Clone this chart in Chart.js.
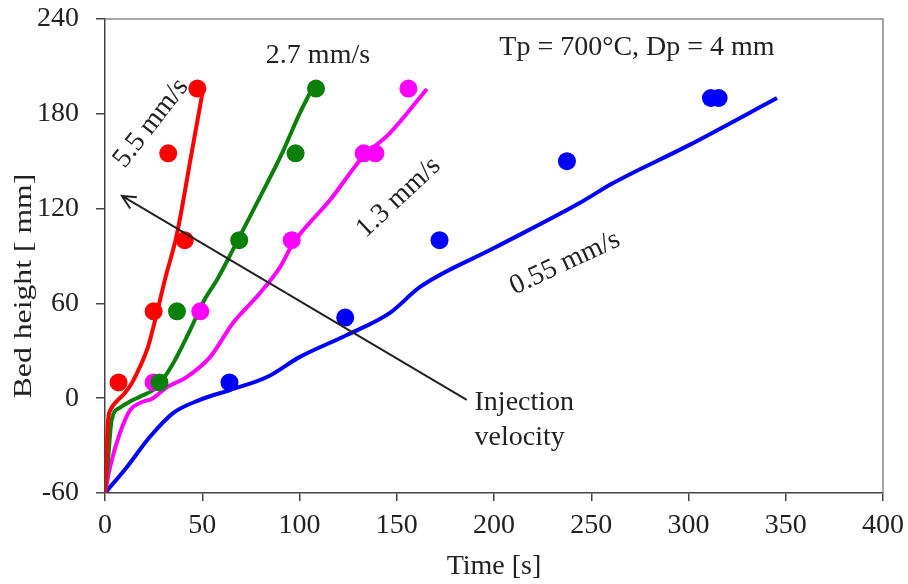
<!DOCTYPE html>
<html>
<head>
<meta charset="utf-8">
<script src="https://cdn.jsdelivr.net/npm/chart.js@4/dist/chart.umd.min.js"></script>
<style>
    html, body { margin: 0; padding: 0; background: #fff; }
    #wrap { width: 908px; height: 584px; }
</style>
</head>
<body>
<div id="wrap"><canvas id="bedChart"></canvas></div>
<script>
'use strict';

// Measured bed height vs time (markers)
const red_t = [7, 25, 32.5, 41, 47.5];
const red_h = [10, 55, 155, 100, 196];
const green_t = [28, 37, 69, 98, 108.5];
const green_h = [10, 55, 100, 155, 196];
const magenta_t = [25, 49, 96, 133, 139, 156];
const magenta_h = [10, 55, 100, 155, 155, 196];
const blue_t = [64, 123.5, 172, 237.5, 311.5, 315.5];
const blue_h = [10, 51, 100, 150, 190, 190];

// Simulated bed height curves
const redSim_t = [0, 0.7, 1.5, 3, 6, 10, 14, 18, 22, 26.7, 30.8, 37, 44.5, 50.5];
const redSim_h = [-60, -40, -15, -7, -2, 3, 10, 20, 32, 54, 75, 104, 155, 196];
const greenSim_t = [0, 1.5, 3.4, 7.7, 13, 18, 26.6, 35, 43.7, 51, 57.6, 65.8, 83.3, 91, 100, 107];
const greenSim_h = [-60, -40, -14, -6, -2, 1, 7, 22, 43, 62, 75, 94, 136, 155, 180, 197];
const magentaSim_t = [0, 2.6, 7.7, 12.9, 18, 24.7, 31.9, 42, 54, 65.8, 79.7, 90, 96.7, 115.7, 132.6, 146.5, 165.5];
const magentaSim_h = [-60, -43.5, -22, -7.5, -3, 0, 7, 13.4, 26, 47.6, 66.6, 83, 98, 125.4, 152.7, 167.8, 195.7];
const blueSim_t = [0, 11.3, 23, 35, 48.8, 64.3, 83.3, 100, 124.4, 146.5, 162, 200, 244, 261, 300, 345.5];
const blueSim_h = [-60, -43.5, -24.6, -9.4, -1.1, 5.2, 13.4, 26, 40, 54, 70.4, 95, 123.5, 136, 160, 190];

// Axis ticks
const xTicks = [0, 50, 100, 150, 200, 250, 300, 350, 400];
const yTicks = [-60, 0, 60, 120, 180, 240];

const SERIF = "'Liberation Serif', 'Times New Roman', serif";
const INK = '#222';

function pts(xs, ys) {
    return xs.map((x, i) => ({ x: x, y: ys[i] }));
}

function markers(xs, ys, color) {
    return {
        data: pts(xs, ys),
        showLine: false,
        pointRadius: 9,
        pointHoverRadius: 9,
        pointBorderWidth: 0,
        backgroundColor: color,
        borderColor: color,
        order: 0
    };
}

function curve(xs, ys, color) {
    return {
        data: pts(xs, ys),
        showLine: true,
        pointRadius: 0,
        borderWidth: 4,
        borderColor: color,
        cubicInterpolationMode: 'monotone',
        fill: false,
        order: 1
    };
}

// text placed in data coordinates
const notes = [
    { text: '5.5 mm/s', x: 23.7, y: 174, angle: -52 },
    { text: '2.7 mm/s', x: 109.5, y: 217, angle: 0 },
    { text: 'Tp = 700°C, Dp = 4 mm', x: 273.5, y: 222, angle: 0 },
    { text: '1.3 mm/s', x: 151, y: 127, angle: -43 },
    { text: '0.55 mm/s', x: 236.5, y: 85.5, angle: -25 }
];

const decorations = {
    id: 'decorations',
    beforeDatasetsDraw(chart) {
        const a = chart.chartArea;
        const ctx = chart.ctx;
        ctx.save();
        ctx.strokeStyle = '#8a8a8a';
        ctx.lineWidth = 1.5;
        ctx.beginPath();
        ctx.moveTo(a.left, a.top);
        ctx.lineTo(a.right, a.top);
        ctx.lineTo(a.right, a.bottom);
        ctx.stroke();
        ctx.restore();
    },
    afterDatasetsDraw(chart) {
        const ctx = chart.ctx;
        const sx = chart.scales.x;
        const sy = chart.scales.y;
        ctx.save();
        ctx.fillStyle = INK;
        ctx.strokeStyle = INK;
        ctx.font = '28px ' + SERIF;
        ctx.textAlign = 'center';
        ctx.textBaseline = 'middle';

        notes.forEach(n => {
            ctx.save();
            ctx.translate(sx.getPixelForValue(n.x), sy.getPixelForValue(n.y));
            ctx.rotate(n.angle * Math.PI / 180);
            ctx.fillText(n.text, 0, 0);
            ctx.restore();
        });

        // injection velocity arrow
        const x0 = sx.getPixelForValue(186), y0 = sy.getPixelForValue(-1);
        const x1 = sx.getPixelForValue(8.7), y1 = sy.getPixelForValue(128);
        const ang = Math.atan2(y1 - y0, x1 - x0);
        ctx.lineWidth = 2;
        ctx.beginPath();
        ctx.moveTo(x0, y0);
        ctx.lineTo(x1, y1);
        ctx.moveTo(x1 - 15 * Math.cos(ang - 0.45), y1 - 15 * Math.sin(ang - 0.45));
        ctx.lineTo(x1, y1);
        ctx.lineTo(x1 - 15 * Math.cos(ang + 0.45), y1 - 15 * Math.sin(ang + 0.45));
        ctx.stroke();

        ctx.textAlign = 'left';
        ctx.fillText('Injection', sx.getPixelForValue(190), sy.getPixelForValue(-3));
        ctx.fillText('velocity', sx.getPixelForValue(190), sy.getPixelForValue(-25));

        // y axis title, a little taller than wide
        ctx.textAlign = 'center';
        ctx.font = '26px ' + SERIF;
        ctx.translate(24, 286);
        ctx.rotate(-Math.PI / 2);
        ctx.scale(1.22, 1);
        ctx.fillText('Bed height [ mm]', 0, 0);
        ctx.restore();
    }
};

new Chart(document.getElementById('bedChart'), {
    type: 'scatter',
    data: {
        datasets: [
            markers(red_t, red_h, '#ff0000'),
            markers(green_t, green_h, '#0a800a'),
            markers(magenta_t, magenta_h, '#ff00ff'),
            markers(blue_t, blue_h, '#0000ff'),
            curve(redSim_t, redSim_h, '#ff0000'),
            curve(greenSim_t, greenSim_h, '#0a800a'),
            curve(magentaSim_t, magentaSim_h, '#ff00ff'),
            curve(blueSim_t, blueSim_h, '#0000ff')
        ]
    },
    options: {
        responsive: true,
        maintainAspectRatio: false,
        animation: false,
        layout: { padding: { left: 0, top: 19, right: 25, bottom: 0 } },
        plugins: {
            legend: { display: false },
            tooltip: { enabled: false }
        },
        scales: {
            x: {
                type: 'linear',
                min: 0,
                max: 400,
                afterFit: scale => {
                    scale.height = 91;
                    scale.paddingLeft = 0;
                    scale.paddingRight = 0;
                },
                afterBuildTicks: scale => { scale.ticks = xTicks.map(v => ({ value: v })); },
                border: { display: true, color: '#444', width: 1.5 },
                grid: { drawOnChartArea: false, drawTicks: true, tickLength: 8, color: '#444', lineWidth: 1.5 },
                ticks: { color: INK, padding: 8, maxRotation: 0, font: { family: SERIF, size: 28 } },
                title: { display: true, text: 'Time [s]', color: INK, padding: 1, font: { family: SERIF, size: 28 } }
            },
            y: {
                type: 'linear',
                min: -60,
                max: 240,
                afterFit: scale => {
                    scale.width = 105;
                    scale.paddingTop = 0;
                    scale.paddingBottom = 0;
                },
                afterBuildTicks: scale => { scale.ticks = yTicks.map(v => ({ value: v })); },
                border: { display: true, color: '#444', width: 1.5 },
                grid: { drawOnChartArea: false, drawTicks: true, tickLength: 9, color: '#444', lineWidth: 1.5 },
                ticks: { color: INK, padding: 17, font: { family: SERIF, size: 28 } }
            }
        }
    },
    plugins: [decorations]
});
</script>
</body>
</html>
